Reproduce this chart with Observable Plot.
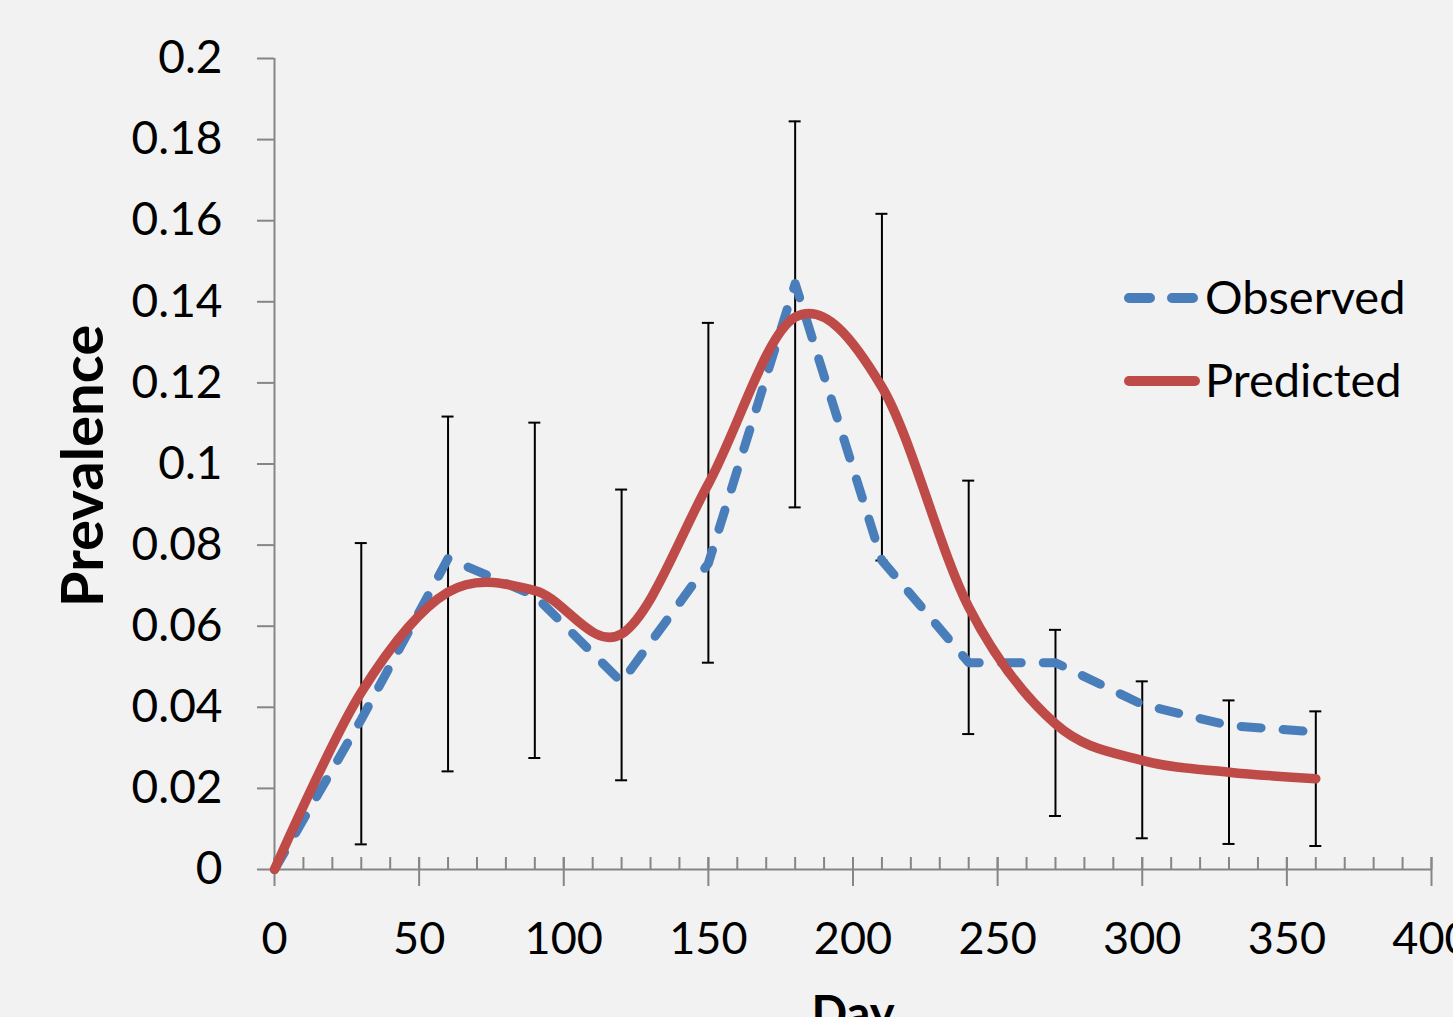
<!DOCTYPE html>
<html><head><meta charset="utf-8">
<script src="https://cdn.jsdelivr.net/npm/d3@7"></script>
<script src="https://cdn.jsdelivr.net/npm/@observablehq/plot@0.6"></script>
<style>
html,body{margin:0;padding:0;background:#f2f2f2;overflow:hidden;}
#wrap{position:relative;width:1453px;height:1017px;overflow:hidden;}
#wrap svg{display:block;}
#legend{position:absolute;left:0;top:0;}
</style></head><body><div id="wrap"></div>
<script>
// ---- data ----
const days      = [0, 30, 60, 90, 120, 150, 180, 210, 240, 270, 300, 330, 360];
const observed  = [0, 0.037, 0.0767, 0.0675, 0.0462, 0.0755, 0.1445, 0.0762, 0.051, 0.051, 0.0407, 0.0355, 0.0339];
const errLow    = [null, 0.0062, 0.0242, 0.0275, 0.022, 0.051, 0.0893, 0.0762, 0.0334, 0.0132, 0.0077, 0.0063, 0.0058];
const errHigh   = [null, 0.0805, 0.1117, 0.1102, 0.0937, 0.1348, 0.1845, 0.1617, 0.0959, 0.0591, 0.0464, 0.0417, 0.039];
const predicted = [0, 0.0437, 0.0684, 0.0688, 0.0581, 0.0951, 0.1362, 0.119, 0.0647, 0.0359, 0.0269, 0.024, 0.0224];
const seriesNames = ["Observed", "Predicted"];
const yTicks      = [0, 0.02, 0.04, 0.06, 0.08, 0.1, 0.12, 0.14, 0.16, 0.18, 0.2];
const yTickLabels = ["0", "0.02", "0.04", "0.06", "0.08", "0.1", "0.12", "0.14", "0.16", "0.18", "0.2"];
const xMajor      = [0, 50, 100, 150, 200, 250, 300, 350, 400];
const xTickLabels = ["0", "50", "100", "150", "200", "250", "300", "350", "400"];
const xMinor      = d3.range(0, 401, 10);
const xTitle = "Day", yTitle = "Prevalence";

const rows = days.map((d, i) => ({day: d, obs: observed[i], lo: errLow[i], hi: errHigh[i], pred: predicted[i]}));
const errRows = rows.filter(r => r.lo != null);

const blue = "#4a7ebb", red = "#be4b48", axisColor = "#868686";
const font = "Lato, 'Open Sans', sans-serif";

const chart = Plot.plot({
  width: 1453, height: 1060,
  marginLeft: 274, marginRight: 22, marginTop: 58, marginBottom: 191,
  x: {domain: [0, 400], axis: null},
  y: {domain: [0, 0.2], axis: null},
  style: {background: "transparent", fontFamily: font, overflow: "visible", color: "#000"},
  marks: [
    // axes
    Plot.ruleY([0], {stroke: axisColor, strokeWidth: 2}),
    Plot.ruleX([0], {stroke: axisColor, strokeWidth: 2}),
    Plot.ruleX(xMinor, {x: d => d, y1: 0, y2: 0, insetTop: -12, stroke: axisColor, strokeWidth: 2}),
    Plot.ruleX(xMajor, {x: d => d, y1: 0, y2: 0, insetTop: -12, insetBottom: -17, stroke: axisColor, strokeWidth: 2}),
    Plot.ruleY(yTicks, {y: d => d, x1: 0, x2: 0, insetLeft: -17, stroke: axisColor, strokeWidth: 2}),
    Plot.text(yTicks, {x: 0, y: d => d, text: (d, i) => yTickLabels[i], textAnchor: "end", dx: -52, fontSize: 46, fill: "#000"}),
    Plot.text(xMajor, {x: d => d, y: 0, text: (d, i) => xTickLabels[i], dy: 70, fontSize: 45, fill: "#000"}),
    Plot.text([xTitle], {text: d => d, frameAnchor: "bottom", textAnchor: "middle", lineAnchor: "middle", dy: 145, fontWeight: "bold", fontSize: 47, fill: "#000"}),
    Plot.text([yTitle], {text: d => d, frameAnchor: "left", textAnchor: "middle", lineAnchor: "middle", dx: -190, dy: 2, rotate: -90, fontWeight: "bold", fontSize: 58, fill: "#000"}),
    // error bars
    Plot.ruleX(errRows, {x: "day", y1: "lo", y2: "hi", stroke: "#000", strokeWidth: 2}),
    Plot.ruleY(errRows, {x1: "day", x2: "day", y: "hi", insetLeft: -6, insetRight: -6, stroke: "#000", strokeWidth: 2}),
    Plot.ruleY(errRows, {x1: "day", x2: "day", y: "lo", insetLeft: -6, insetRight: -6, stroke: "#000", strokeWidth: 2}),
    // series
    Plot.line(rows, {x: "day", y: "obs", stroke: blue, strokeWidth: 9, strokeDasharray: "20,22", strokeLinecap: "round", strokeLinejoin: "round"}),
    Plot.line(rows, {x: "day", y: "pred", stroke: red, strokeWidth: 9.5, curve: "cardinal", tension: 0, strokeLinecap: "round", strokeLinejoin: "round"})
  ]
});
const wrap = document.getElementById("wrap");
wrap.appendChild(chart);

// legend
const ns = "http://www.w3.org/2000/svg";
const leg = document.createElementNS(ns, "svg");
leg.setAttribute("id", "legend");
leg.setAttribute("width", 1453); leg.setAttribute("height", 1017);
const items = [
  {name: seriesNames[0], color: blue, dash: "21 22", y: 298, x2: 1193},
  {name: seriesNames[1], color: red, dash: null, y: 381, x2: 1195}
];
items.forEach(it => {
  const l = document.createElementNS(ns, "line");
  l.setAttribute("x1", 1129); l.setAttribute("x2", it.x2);
  l.setAttribute("y1", it.y); l.setAttribute("y2", it.y);
  l.setAttribute("stroke", it.color); l.setAttribute("stroke-width", 10);
  l.setAttribute("stroke-linecap", "round");
  if (it.dash) l.setAttribute("stroke-dasharray", it.dash);
  leg.appendChild(l);
  const t = document.createElementNS(ns, "text");
  t.setAttribute("x", 1205); t.setAttribute("y", it.y + 16);
  t.setAttribute("font-family", font); t.setAttribute("font-size", 47);
  t.textContent = it.name;
  leg.appendChild(t);
});
wrap.appendChild(leg);
</script></body></html>
